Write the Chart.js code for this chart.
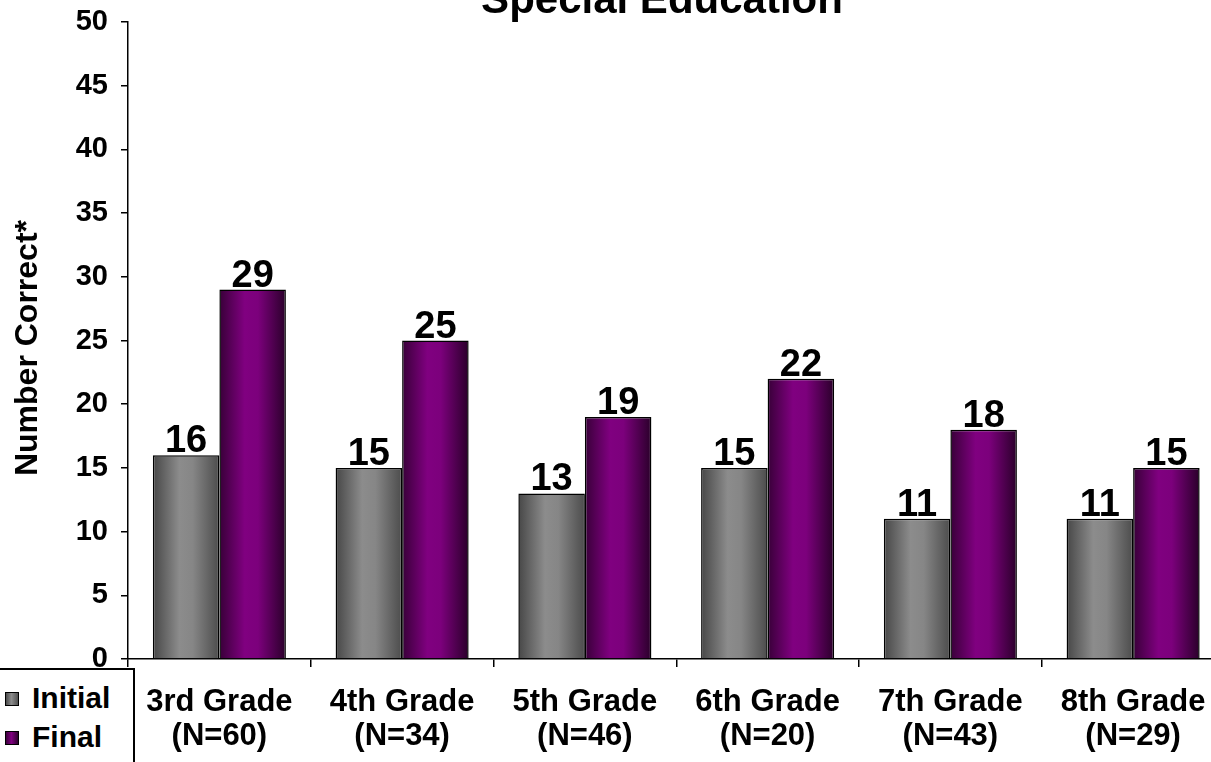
<!DOCTYPE html>
<html>
<head>
<meta charset="utf-8">
<script src="https://cdn.jsdelivr.net/npm/chart.js@4"></script>
<style>
  html, body { margin: 0; padding: 0; background: #fff; overflow: hidden; }
  #wrap { position: relative; width: 1240px; height: 762px; }
  #legend {
    position: absolute; left: -3px; top: 668px; width: 134px; height: 110px;
    border: 2px solid #000; background: #fff;
    font: bold 30px 'Liberation Sans', Arial, sans-serif; color: #000;
  }
  #legend .item { position: absolute; left: 6px; height: 34px; line-height: 34px; white-space: nowrap; }
  #legend .box { display: inline-block; width: 12px; height: 12px; border: 1px solid #000; margin-right: 13px; vertical-align: 2px; }
</style>
</head>
<body>
<div id="wrap">
  <canvas id="chart" width="1240" height="762"></canvas>
  <div id="legend">
    <div class="item" style="top:11px"><span class="box" style="background:linear-gradient(90deg,#4a4a4a,#8c8c8c 45%,#505050)"></span>Initial</div>
    <div class="item" style="top:50px"><span class="box" style="background:linear-gradient(90deg,#3c003c,#800080 45%,#2e002e)"></span>Final</div>
  </div>
</div>
<script>
const categories = [
  ['3rd Grade', '(N=60)'],
  ['4th Grade', '(N=34)'],
  ['5th Grade', '(N=46)'],
  ['6th Grade', '(N=20)'],
  ['7th Grade', '(N=43)'],
  ['8th Grade', '(N=29)']
];
const initialScores = [16, 15, 13, 15, 11, 11];
const finalScores = [29, 25, 19, 22, 18, 15];

const FONT = "'Liberation Sans', Arial, sans-serif";
const catPct = 0.728;

// horizontal shading like a cylinder, built per bar from the x scale
function shade(stops) {
  return (context) => {
    const chart = context.chart;
    const xs = chart.scales.x;
    if (!chart.chartArea || !xs || context.dataIndex === undefined) return stops[1][1];
    const catW = xs.width / categories.length;
    const w = catW * catPct / 2;
    const c = xs.getPixelForValue(context.dataIndex);
    const x0 = context.datasetIndex === 0 ? c - w : c;
    const g = chart.ctx.createLinearGradient(x0, 0, x0 + w, 0);
    stops.forEach(s => g.addColorStop(s[0], s[1]));
    return g;
  };
}

// chart title (cut off at the top edge) and the rotated y-axis title
const titlePlugin = {
  id: 'topTitle',
  afterDraw(chart) {
    const ctx = chart.ctx;
    ctx.save();
    ctx.font = 'bold 42px ' + FONT;
    ctx.fillStyle = '#000';
    ctx.textAlign = 'center';
    ctx.textBaseline = 'alphabetic';
    ctx.fillText('Special Education', 662, 13);
    ctx.translate(37, 348);
    ctx.rotate(-Math.PI / 2);
    ctx.font = 'bold 32px ' + FONT;
    ctx.fillText('Number Correct*', 0, 0);
    ctx.restore();
  }
};

const valueLabels = {
  id: 'valueLabels',
  afterDatasetsDraw(chart) {
    const ctx = chart.ctx;
    ctx.save();
    ctx.font = 'bold 38px ' + FONT;
    ctx.fillStyle = '#000';
    ctx.textAlign = 'center';
    ctx.textBaseline = 'alphabetic';
    chart.data.datasets.forEach((ds, i) => {
      chart.getDatasetMeta(i).data.forEach((bar, j) => {
        ctx.fillText(ds.data[j], bar.x, bar.y - 3);
      });
    });
    ctx.restore();
  }
};

new Chart(document.getElementById('chart'), {
  type: 'bar',
  data: {
    labels: categories,
    datasets: [
      {
        label: 'Initial',
        data: initialScores,
        backgroundColor: shade([[0, '#474747'], [0.4, '#8c8c8c'], [0.6, '#868686'], [1, '#4c4c4c']]),
        borderColor: '#000',
        borderWidth: 1.5
      },
      {
        label: 'Final',
        data: finalScores,
        backgroundColor: shade([[0, '#380038'], [0.38, '#800080'], [0.58, '#7c007c'], [1, '#2a002a']]),
        borderColor: '#000',
        borderWidth: 1.5
      }
    ]
  },
  options: {
    responsive: false,
    animation: false,
    layout: { padding: { top: 22, left: 0, right: 15.5, bottom: 0 } },
    datasets: { bar: { categoryPercentage: catPct, barPercentage: 1 } },
    plugins: {
      legend: { display: false },
      tooltip: { enabled: false }
    },
    scales: {
      x: {
        afterFit(scale) { scale.height = 103; },
        grid: { drawOnChartArea: false, drawTicks: true, tickLength: 8, color: '#000', lineWidth: 1.5 },
        border: { display: true, color: '#000', width: 1.5 },
        ticks: {
          color: '#000',
          padding: 18,
          maxRotation: 0,
          autoSkip: false,
          font: { family: FONT, size: 31, weight: 'bold', lineHeight: 1.1 }
        }
      },
      y: {
        min: 0,
        max: 50,
        afterFit(scale) {
          scale.width = 128;
          scale.paddingTop = 0;
          scale.paddingBottom = 0;
        },
        grid: { drawOnChartArea: false, drawTicks: true, tickLength: 7, color: '#000', lineWidth: 1.5 },
        border: { display: true, color: '#000', width: 1.5 },
        ticks: {
          stepSize: 5,
          color: '#000',
          padding: 13,
          font: { family: FONT, size: 29, weight: 'bold' }
        },
        title: { display: false }
      }
    }
  },
  plugins: [titlePlugin, valueLabels]
});
</script>
</body>
</html>
